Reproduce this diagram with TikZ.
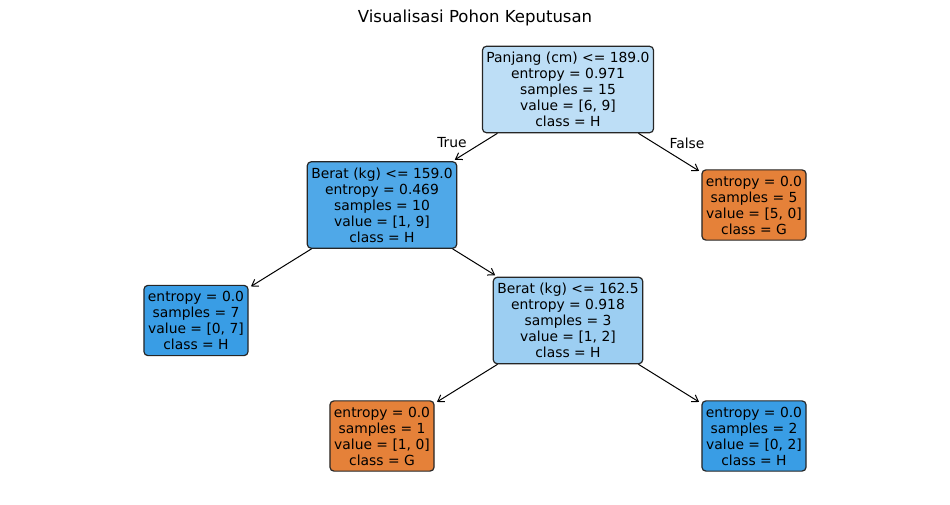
\documentclass[tikz,border=0pt]{standalone}
\usepackage{fontspec}
\setmainfont{DejaVu Sans}
\usetikzlibrary{arrows.meta}

\definecolor{rootblue}{RGB}{189,222,246}
\definecolor{midblue}{RGB}{79,168,232}
\definecolor{paleblue}{RGB}{156,206,242}
\definecolor{leafblue}{RGB}{57,157,229}
\definecolor{leaforange}{RGB}{229,129,57}

\begin{document}
\begin{tikzpicture}[
x = 0.75pt, y = -0.75pt, % one unit = one pixel
> = {Straight Barb[length=4.5pt,width=6pt]}, % arrow head style
shorten > = 2pt, % stop short of the child box
line width = 0.75pt % line style
]
\tikzstyle{every box}=[
draw = black!85,
line width = 0.9pt,
rounded corners = 3pt,
align = center,
inner xsep = 3pt,
inner ysep = 4.4pt,
font = \fontsize{10.4}{12}\selectfont
]
\useasboundingbox (0,0) rectangle (950,504);
\node[font=\fontsize{12.4}{14}\selectfont] (title) at (475,18) {Visualisasi Pohon Keputusan};
\node[every box, fill=rootblue] (n0) at (568,89.5)
  {Panjang (cm) <= 189.0\\entropy = 0.971\\samples = 15\\value = [6, 9]\\class = H};
\node[every box, fill=midblue] (n1) at (382,205)
  {Berat (kg) <= 159.0\\entropy = 0.469\\samples = 10\\value = [1, 9]\\class = H};
\node[every box, fill=leaforange] (n6) at (754,205)
  {entropy = 0.0\\samples = 5\\value = [5, 0]\\class = G};
\node[every box, fill=leafblue] (n2) at (196,320.5)
  {entropy = 0.0\\samples = 7\\value = [0, 7]\\class = H};
\node[every box, fill=paleblue] (n3) at (568,320.5)
  {Berat (kg) <= 162.5\\entropy = 0.918\\samples = 3\\value = [1, 2]\\class = H};
\node[every box, fill=leaforange] (n4) at (382,436)
  {entropy = 0.0\\samples = 1\\value = [1, 0]\\class = G};
\node[every box, fill=leafblue] (n5) at (754,436)
  {entropy = 0.0\\samples = 2\\value = [0, 2]\\class = H};
\path[->] (n0) edge (n1);
\path[->] (n0) edge (n6);
\path[->] (n1) edge (n2);
\path[->] (n1) edge (n3);
\path[->] (n3) edge (n4);
\path[->] (n3) edge (n5);
\node[font=\fontsize{10.4}{12}\selectfont] (yes) at (452,143) {True};
\node[font=\fontsize{10.4}{12}\selectfont] (no) at (687,143) {False};
\end{tikzpicture}
\end{document}
